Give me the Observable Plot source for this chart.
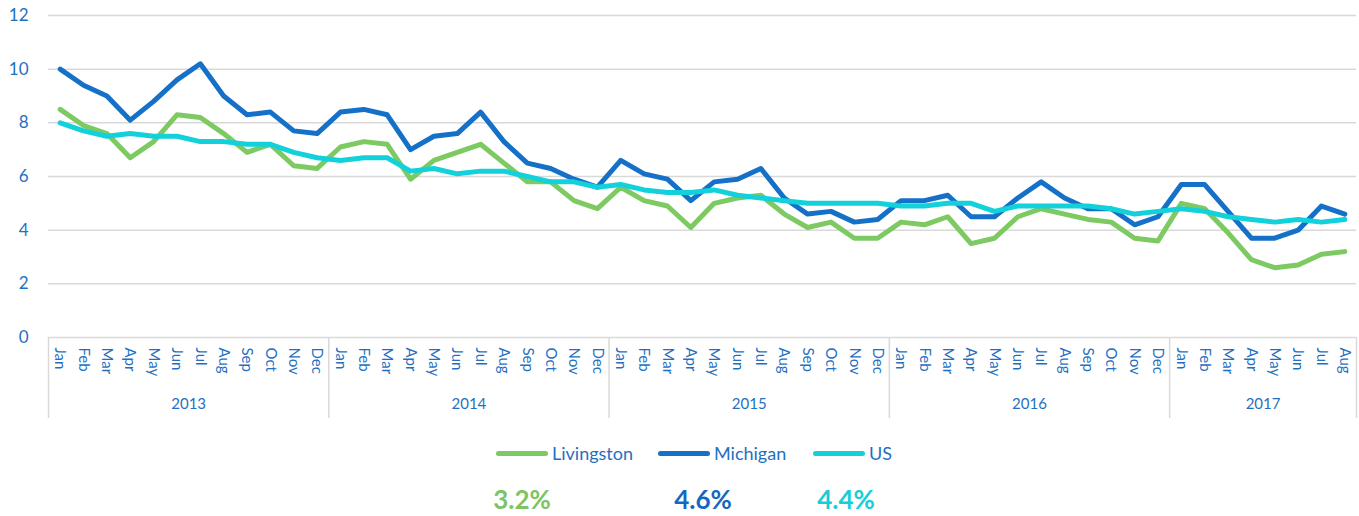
<!DOCTYPE html>
<html>
<head>
<meta charset="utf-8">
<script src="https://cdn.jsdelivr.net/npm/d3@7"></script>
<script src="https://cdn.jsdelivr.net/npm/@observablehq/plot@0.6"></script>
<style>
  body { margin: 0; background: #ffffff; font-family: Lato, "Open Sans", sans-serif; }
  #wrap { position: relative; width: 1359px; height: 516px; overflow: hidden; background: #fff; }
  #chart svg { display: block; }
  .leg { position: absolute; top: 442px; height: 22px; display: flex; align-items: center; font-size: 18px; color: #1F70C1; white-space: nowrap; }
  .sw { width: 52px; height: 5px; border-radius: 3px; margin-right: 4px; }
  .val { position: absolute; top: 483px; font-weight: 700; font-size: 26px; line-height: 32px; transform: translateX(-50%); white-space: nowrap; }
</style>
</head>
<body>
<div id="wrap">
  <div id="chart"></div>
  <div id="legend"></div>
  <div id="values"></div>
</div>
<script>
// ---- data ----
const years = ["2013", "2014", "2015", "2016", "2017"];
const months = ["Jan", "Feb", "Mar", "Apr", "May", "Jun", "Jul", "Aug", "Sep", "Oct", "Nov", "Dec"];
const yTicks = [0, 2, 4, 6, 8, 10, 12];
const seriesNames = ["Livingston", "Michigan", "US"];
const livingston = [
  8.5, 7.9, 7.6, 6.7, 7.3, 8.3, 8.2, 7.6, 6.9, 7.2, 6.4, 6.3,
  7.1, 7.3, 7.2, 5.9, 6.6, 6.9, 7.2, 6.5, 5.8, 5.8, 5.1, 4.8,
  5.6, 5.1, 4.9, 4.1, 5.0, 5.2, 5.3, 4.6, 4.1, 4.3, 3.7, 3.7,
  4.3, 4.2, 4.5, 3.5, 3.7, 4.5, 4.8, 4.6, 4.4, 4.3, 3.7, 3.6,
  5.0, 4.8, 3.9, 2.9, 2.6, 2.7, 3.1, 3.2
];
const michigan = [
  10.0, 9.4, 9.0, 8.1, 8.8, 9.6, 10.2, 9.0, 8.3, 8.4, 7.7, 7.6,
  8.4, 8.5, 8.3, 7.0, 7.5, 7.6, 8.4, 7.3, 6.5, 6.3, 5.9, 5.6,
  6.6, 6.1, 5.9, 5.1, 5.8, 5.9, 6.3, 5.2, 4.6, 4.7, 4.3, 4.4,
  5.1, 5.1, 5.3, 4.5, 4.5, 5.2, 5.8, 5.2, 4.8, 4.8, 4.2, 4.5,
  5.7, 5.7, 4.7, 3.7, 3.7, 4.0, 4.9, 4.6
];
const us = [
  8.0, 7.7, 7.5, 7.6, 7.5, 7.5, 7.3, 7.3, 7.2, 7.2, 6.9, 6.7,
  6.6, 6.7, 6.7, 6.2, 6.3, 6.1, 6.2, 6.2, 6.0, 5.8, 5.8, 5.6,
  5.7, 5.5, 5.4, 5.4, 5.5, 5.3, 5.2, 5.1, 5.0, 5.0, 5.0, 5.0,
  4.9, 4.9, 5.0, 5.0, 4.7, 4.9, 4.9, 4.9, 4.9, 4.8, 4.6, 4.7,
  4.8, 4.7, 4.5, 4.4, 4.3, 4.4, 4.3, 4.4
];
const latestLabels = ["3.2%", "4.6%", "4.4%"];

// ---- styles ----
const seriesColors = ["#7DC962", "#1570C8", "#12D1DA"];
const valueColors = ["#7DC462", "#1567C2", "#17CDD8"];
const textBlue = "#1F70C1";
const gridColor = "#D9D9D9";
const legendLeft = [496, 658, 813];
const valueCenter = [522, 703, 846];

// ---- build table ----
const N = livingston.length;
const keys = [];
years.forEach(y => months.forEach(m => keys.push(y + "-" + m)));
keys.length = N;
const seriesValues = [livingston, michigan, us];
const rows = seriesNames.flatMap((s, si) => seriesValues[si].map((v, i) => ({series: s, key: keys[i], value: v})));

const W = 1359, H = 425, mL = 48, mR = 3, mT = 15, mB = 88;
const step = (W - mL - mR) / N;
const yearInfo = years.map((y, yi) => {
  const start = yi * 12;
  const count = Math.min(12, N - start);
  return {year: y, first: keys[start], mid: keys[start + Math.floor((count - 1) / 2)]};
});

const chart = Plot.plot({
  width: W, height: H,
  marginTop: mT, marginBottom: mB, marginLeft: mL, marginRight: mR,
  style: {fontFamily: "Lato, 'Open Sans', sans-serif", background: "white", overflow: "visible"},
  x: {type: "point", domain: keys, padding: 0.5, round: false, axis: null},
  y: {domain: [0, 12]},
  color: {domain: seriesNames, range: seriesColors},
  marks: [
    Plot.ruleY(yTicks, {stroke: gridColor, strokeWidth: 1.5}),
    Plot.axisY(yTicks, {tickSize: 0, tickPadding: 20, fontSize: 17, fill: textBlue, label: null}),
    Plot.ruleX(yearInfo, {x: "first", dx: -step / 2, insetTop: H - mT - mB, insetBottom: -81, stroke: gridColor, strokeWidth: 1.5}),
    Plot.ruleX([keys[N - 1]], {x: d => d, dx: step / 2, insetTop: H - mT - mB, insetBottom: -81, stroke: gridColor, strokeWidth: 1.5}),
    Plot.text(keys, {x: d => d, text: (d, i) => months[i % 12], frameAnchor: "bottom", dy: 10, rotate: 90, textAnchor: "start", lineAnchor: "middle", fontSize: 15, fill: textBlue}),
    Plot.text(yearInfo, {x: "mid", text: "year", dx: step / 2, frameAnchor: "bottom", dy: 67, lineAnchor: "middle", fontSize: 15, fill: textBlue}),
    Plot.line(rows, {x: "key", y: "value", z: "series", stroke: "series", strokeWidth: 5, strokeLinejoin: "round", strokeLinecap: "round"})
  ]
});
document.getElementById("chart").appendChild(chart);

// ---- legend & latest values ----
const legend = document.getElementById("legend");
seriesNames.forEach((s, i) => {
  const item = document.createElement("div");
  item.className = "leg";
  item.style.left = legendLeft[i] + "px";
  const sw = document.createElement("span");
  sw.className = "sw";
  sw.style.background = seriesColors[i];
  const t = document.createElement("span");
  t.textContent = s;
  item.appendChild(sw);
  item.appendChild(t);
  legend.appendChild(item);
});
const values = document.getElementById("values");
latestLabels.forEach((v, i) => {
  const d = document.createElement("div");
  d.className = "val";
  d.style.left = valueCenter[i] + "px";
  d.style.color = valueColors[i];
  d.textContent = v;
  values.appendChild(d);
});
</script>
</body>
</html>
